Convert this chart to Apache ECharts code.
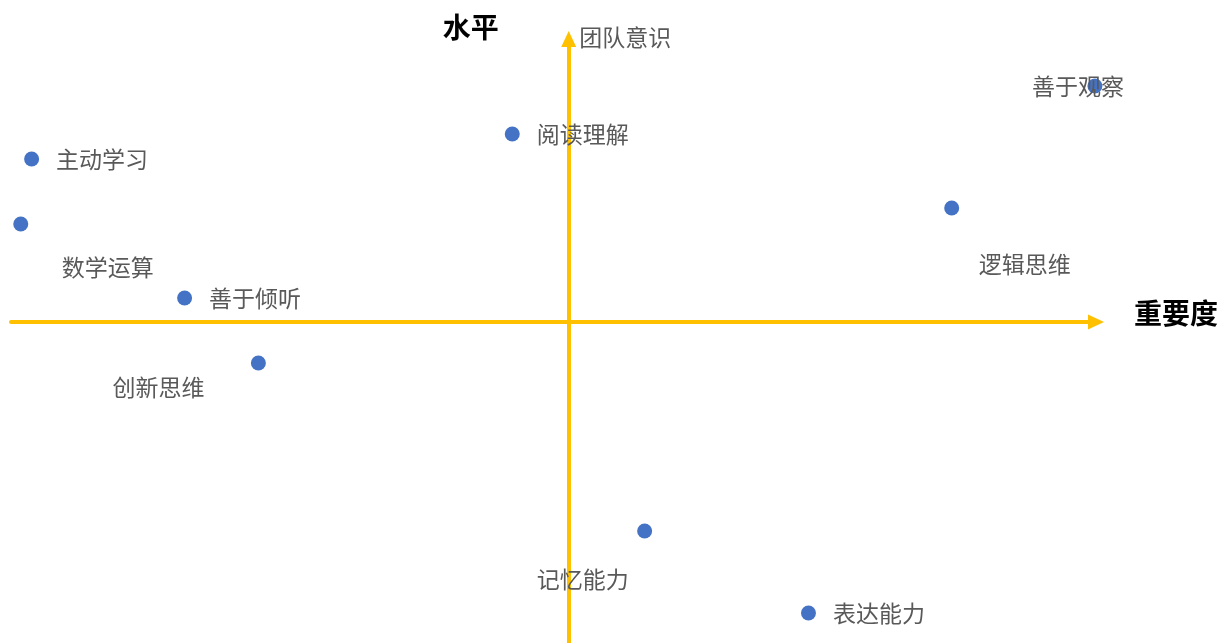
<!DOCTYPE html>
<html><head><meta charset="utf-8">
<script src="https://cdn.jsdelivr.net/npm/echarts@6/dist/echarts.min.js"></script>
<style>html,body{margin:0;padding:0;background:#fff}#c{width:1221px;height:643px}</style>
</head><body><div id="c"></div>
<script>
const names = ['团队意识','阅读理解','主动学习','数学运算','善于倾听','创新思维','善于观察','逻辑思维','记忆能力','表达能力'];
const importance = [0, -0.52, -4.95, -5.05, -3.54, -2.86, 4.85, 3.53, 0.70, 2.21];
const level = [2.83, 1.88, 1.63, 0.98, 0.24, -0.41, 2.36, 1.14, -2.09, -2.91];
const xAxisName = '重要度';
const yAxisName = '水平';

// label placement (style)
const labelPlace = {
  '团队意识': {position: 'right', distance: 3, offset: [0, -2]},
  '数学运算': {position: 'inside', offset: [87, 43]},
  '创新思维': {position: 'inside', offset: [-100, 24]},
  '善于观察': {position: 'inside', offset: [-17, 0]},
  '逻辑思维': {position: 'inside', offset: [73, 56]},
  '记忆能力': {position: 'inside', offset: [-62, 48]}
};

const data = names.map((n, i) => {
  const p = labelPlace[n] || {position: 'right', distance: 17};
  const item = {name: n, value: [importance[i], level[i]], label: Object.assign({}, p)};
  if (n === '团队意识') item.itemStyle = {color: 'rgba(0,0,0,0)'};
  return item;
});

const axisLineStyle = {color: '#FFC000', width: 4};
const chart = echarts.init(document.getElementById('c'), null, {renderer: 'canvas'});
chart.setOption({
  animation: false,
  grid: {left: 11, right: 124, top: 39, bottom: 0},
  xAxis: {
    type: 'value', min: -5.14, max: 4.86,
    splitLine: {show: false}, axisTick: {show: false}, axisLabel: {show: false},
    axisLine: {onZero: true, lineStyle: axisLineStyle, symbol: ['none', 'triangle'], symbolSize: [15, 16]},
    name: xAxisName, nameLocation: 'end', nameGap: 38,
    nameTextStyle: {fontFamily: 'Noto Sans CJK SC', fontSize: 28, fontWeight: 'bold', color: '#000', verticalAlign: 'bottom', lineHeight: 18}
  },
  yAxis: {
    type: 'value', min: -3.21, max: 2.83,
    splitLine: {show: false}, axisTick: {show: false}, axisLabel: {show: false},
    axisLine: {onZero: true, lineStyle: axisLineStyle, symbol: ['none', 'triangle'], symbolSize: [15, 16]},
    name: yAxisName, nameLocation: 'end', nameGap: -2,
    nameTextStyle: {fontFamily: 'Noto Sans CJK SC', fontSize: 28, fontWeight: 'bold', color: '#000', align: 'right', padding: [0, 70, 0, 0]}
  },
  series: [{
    type: 'scatter', symbolSize: 15, clip: false,
    itemStyle: {color: '#4472C4', opacity: 1},
    label: {show: true, formatter: '{b}', color: '#595959', fontFamily: 'Noto Sans CJK SC', fontSize: 23},
    data: data
  }]
});
</script></body></html>
